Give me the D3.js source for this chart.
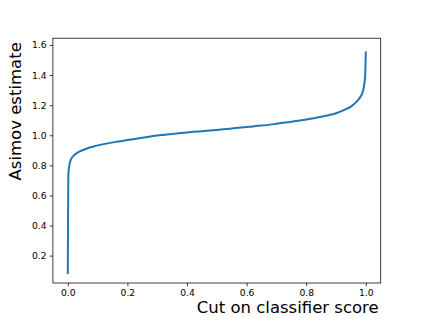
<!DOCTYPE html>
<html>
<head>
<meta charset="utf-8">
<script src="https://cdn.jsdelivr.net/npm/d3@7"></script>
<style>
  body { margin: 0; background: #fff; }
  text { font-family: "DejaVu Sans", sans-serif; }
</style>
</head>
<body>
<div id="chart"></div>
<script>
// cut on classifier score (x) and the Asimov estimate (y)
var cutValues = [0, 0.0008, 0.0015, 0.002, 0.003, 0.005, 0.008, 0.012, 0.02, 0.03, 0.045,
  0.06, 0.086, 0.12, 0.16, 0.2, 0.25, 0.3, 0.35, 0.4, 0.45, 0.5, 0.55, 0.6, 0.65,
  0.7, 0.75, 0.8, 0.85, 0.9, 0.93, 0.95, 0.97, 0.98, 0.99, 0.995, 0.998, 1.0];
var asimov = [0.084, 0.4, 0.68, 0.74, 0.77, 0.795, 0.825, 0.845, 0.865, 0.881, 0.897,
  0.909, 0.925, 0.941, 0.956, 0.968, 0.983, 0.998, 1.009, 1.019, 1.027, 1.035, 1.045, 1.055, 1.064,
  1.076, 1.089, 1.104, 1.123, 1.146, 1.17, 1.19, 1.225, 1.25, 1.29, 1.34, 1.40, 1.55];
var xTicks = [0.0, 0.2, 0.4, 0.6, 0.8, 1.0];
var yTicks = [0.2, 0.4, 0.6, 0.8, 1.0, 1.2, 1.4, 1.6];

var W = 423, H = 318;
var margin = { top: 38.2, right: 42.3, bottom: 35, left: 52.9 };
var width = W - margin.left - margin.right,
  height = H - margin.top - margin.bottom;

var data = cutValues.map(function(c, i) {
  return { cut: c, val: asimov[i] };
});

var x = d3.scaleLinear().domain([-0.05, 1.05]).range([0, width]);
var y = d3.scaleLinear().domain([0.018, 1.645]).range([height, 0]);

var svg = d3.select("#chart")
  .append("svg")
  .attr("width", W)
  .attr("height", H)
  .append("g")
  .attr("transform", "translate(" + margin.left + "," + margin.top + ")");

var xAxis = d3.axisBottom(x)
  .tickValues(xTicks)
  .tickSize(3.2)
  .tickPadding(3.2)
  .tickFormat(d3.format(".1f"));

var yAxis = d3.axisLeft(y)
  .tickValues(yTicks)
  .tickSize(3.2)
  .tickPadding(3.2)
  .tickFormat(d3.format(".1f"));

svg.append("g")
  .attr("class", "x axis")
  .attr("transform", "translate(0," + height + ")")
  .call(xAxis)
  .call(g => g.select(".domain").remove())
  .selectAll("text")
  .style("font-size", "9.2px")
  .style("fill", "#000");

svg.append("g")
  .attr("class", "y axis")
  .call(yAxis)
  .call(g => g.select(".domain").remove())
  .selectAll("text")
  .style("font-size", "9.2px")
  .style("fill", "#000");

svg.selectAll(".tick line")
  .style("stroke", "#000")
  .style("stroke-width", 0.75);

// the curve
var line = d3.line()
  .x(function(d) { return x(d.cut); })
  .y(function(d) { return y(d.val); })
  .curve(d3.curveMonotoneX);

svg.append("path")
  .datum(data)
  .attr("fill", "none")
  .attr("stroke", "#1f77b4")
  .attr("stroke-width", 2)
  .attr("stroke-linejoin", "round")
  .attr("stroke-linecap", "square")
  .attr("d", line);

// frame
svg.append("rect")
  .attr("x", 0)
  .attr("y", 0)
  .attr("width", width)
  .attr("height", height)
  .attr("fill", "none")
  .attr("stroke", "#000")
  .attr("stroke-width", 0.75);

// axis labels
svg.append("text")
  .attr("x", width - 2)
  .attr("y", height + 30)
  .attr("text-anchor", "end")
  .style("font-size", "16.5px")
  .style("fill", "#000")
  .text("Cut on classifier score");

svg.append("text")
  .attr("transform", "translate(" + (20.5 - margin.left) + "," + 4 + ") rotate(-90)")
  .attr("text-anchor", "end")
  .style("font-size", "16.5px")
  .style("fill", "#000")
  .text("Asimov estimate");
</script>
</body>
</html>
